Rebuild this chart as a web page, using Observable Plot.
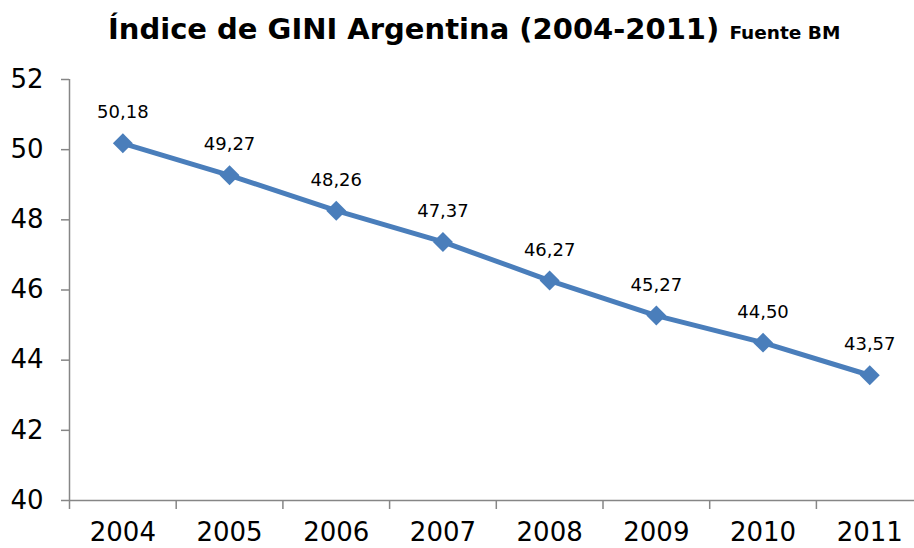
<!DOCTYPE html>
<html>
<head>
<meta charset="utf-8">
<script src="https://cdn.jsdelivr.net/npm/d3@7"></script>
<script src="https://cdn.jsdelivr.net/npm/@observablehq/plot@0.6"></script>
<style>
  html, body { margin: 0; padding: 0; background: #fff; overflow: hidden; }
  #wrap { position: relative; width: 914px; height: 548px; overflow: hidden; font-family: "DejaVu Sans", Verdana, sans-serif; }
  #title { position: absolute; left: 108px; top: 15px; white-space: nowrap; font-weight: bold; font-size: 29px; line-height: 29px; color: #000; z-index: 2; }
  #title .src { font-size: 18.5px; }
  #chart { position: absolute; left: 0; top: 0; }
</style>
</head>
<body>
<div id="wrap">
  <div id="title">Índice de GINI Argentina (2004-2011) <span class="src">Fuente BM</span></div>
  <div id="chart"></div>
</div>
<script>
const years = ["2004", "2005", "2006", "2007", "2008", "2009", "2010", "2011"];
const gini = [50.18, 49.27, 48.26, 47.37, 46.27, 45.27, 44.50, 43.57];
const yTicks = [40, 42, 44, 46, 48, 50, 52];

const data = years.map((y, i) => ({i, year: y, v: gini[i]}));
const boundaries = d3.range(-0.5, years.length, 1);
const fmt = v => v.toFixed(2).replace(".", ",");
const axisColor = "#868686";
const lineColor = "#4a7ebb";

const chart = Plot.plot({
  width: 914,
  height: 548,
  marginLeft: 69,
  marginRight: 0,
  marginTop: 79,
  marginBottom: 48,
  style: {fontFamily: "'DejaVu Sans', Verdana, sans-serif", color: "#000", background: "transparent"},
  x: {type: "linear", domain: [-0.5, years.length - 0.5], range: [69, 922.6], axis: null},
  y: {domain: [40, 52], axis: null},
  marks: [
    Plot.ruleX([-0.5], {y1: 40, y2: 52, stroke: axisColor, strokeWidth: 1.5}),
    Plot.ruleY([40], {x1: -0.5, x2: years.length - 0.5, stroke: axisColor, strokeWidth: 1.5}),
    Plot.axisY({ticks: yTicks, tickSize: 8, tickPadding: 18, fontSize: 26, stroke: axisColor, strokeWidth: 1.5, fill: "#000", label: null}),
    Plot.axisX({ticks: boundaries, tickSize: 9, tickFormat: () => "", stroke: axisColor, strokeWidth: 1.5, label: null}),
    Plot.axisX({ticks: d3.range(years.length), tickSize: 0, tickPadding: 22, fontSize: 26, fill: "#000", tickFormat: i => years[i], label: null}),
    Plot.line(data, {x: "i", y: "v", stroke: lineColor, strokeWidth: 5}),
    Plot.dot(data, {x: "i", y: "v", symbol: "diamond2", r: 9, fill: lineColor, stroke: null}),
    Plot.text(data, {x: "i", y: "v", text: d => fmt(d.v), dy: -25, lineAnchor: "bottom", fontSize: 18, fill: "#000"})
  ]
});
document.getElementById("chart").appendChild(chart);
</script>
</body>
</html>
